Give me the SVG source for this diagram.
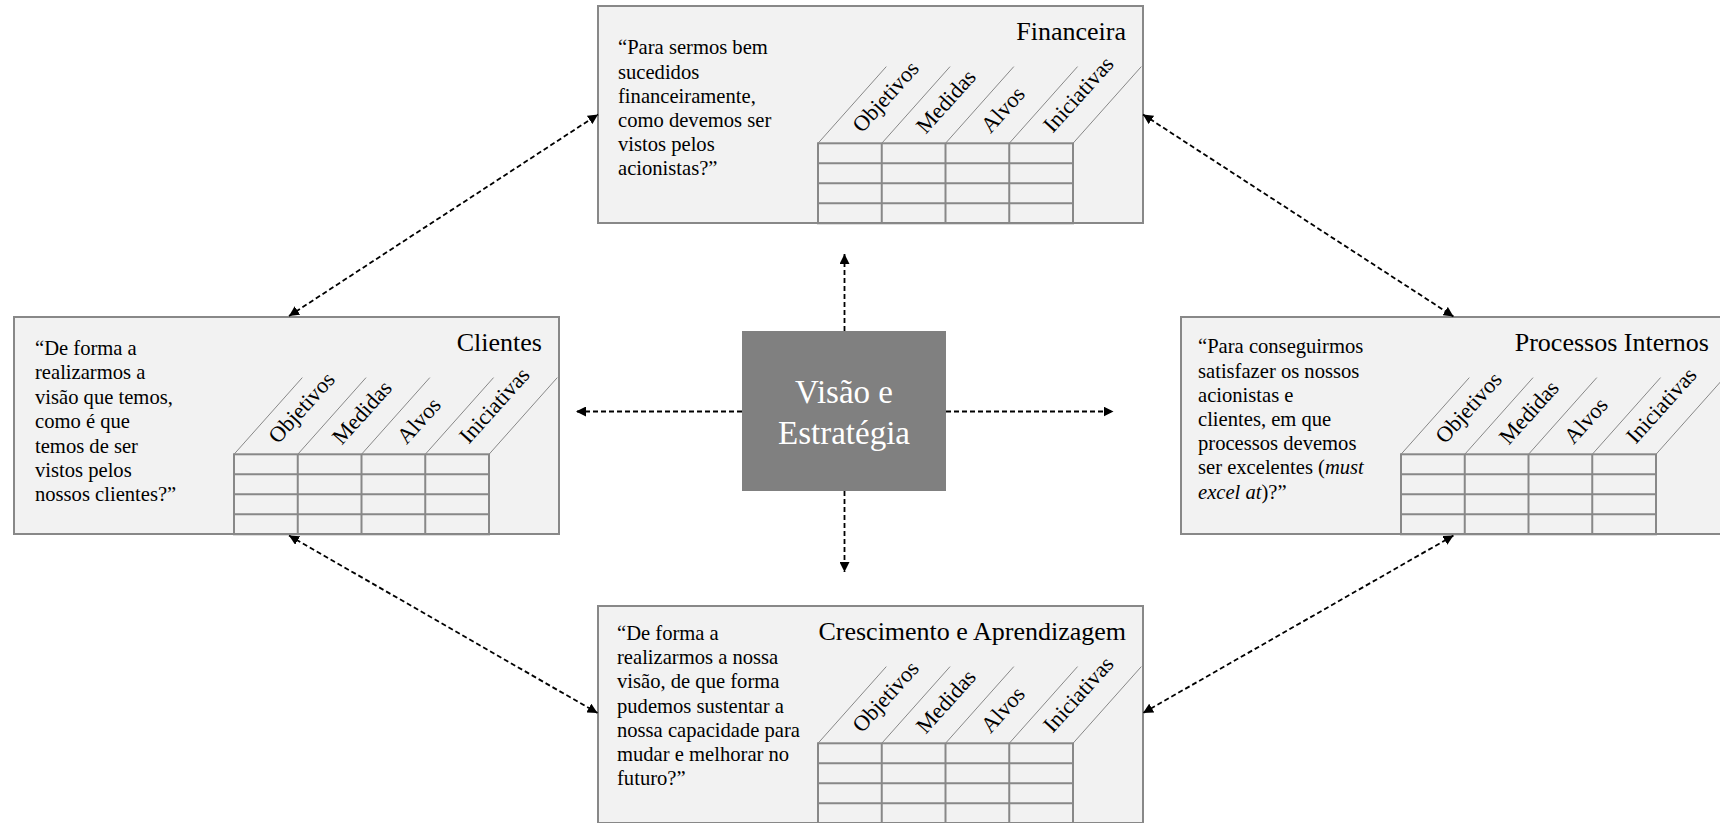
<svg xmlns="http://www.w3.org/2000/svg" width="1720" height="823" viewBox="0 0 1720 823">
  <style>
    .box{fill:#f2f2f2;stroke:#888;stroke-width:2}
    .grid{fill:none;stroke:#888;stroke-width:2}
    .slant{fill:none;stroke:#888;stroke-width:1}
    .serif{font-family:"Liberation Serif","Times New Roman",serif;fill:#000}
    .q{font-size:20.6px}
    .title{font-size:26px;text-anchor:end}
    .hd{font-size:22.3px}
    .core{fill:#808080}
    .coretxt{font-size:33px;fill:#fff;text-anchor:middle}
    .link{fill:none;stroke:#000;stroke-width:1.8;stroke-dasharray:5 3}
    .two{marker-start:url(#ah);marker-end:url(#ah)}
    .one{marker-end:url(#ah)}
  </style>
  <defs>
    <marker id="ah" viewBox="0 0 10 10" refX="10" refY="5" markerWidth="10" markerHeight="10" markerUnits="userSpaceOnUse" orient="auto-start-reverse">
      <path d="M0,0L10,5L0,10z" fill="#000"/>
    </marker>
    <!-- scorecard table: 4 columns x 4 rows with slanted header lines -->
    <g id="table">
      <rect class="grid" x="0" y="0" width="255" height="80"/>
      <path class="grid" d="M63.75,0V80M127.5,0V80M191.25,0V80M0,20H255M0,40H255M0,60H255"/>
      <path class="slant" d="M0,0l68.3,-76.7M63.75,0l68.3,-76.7M127.5,0l68.3,-76.7M191.25,0l68.3,-76.7M255,0l68.3,-76.7"/>
    </g>
  </defs>

  <!-- Financeira -->
  <g id="financeira">
    <rect class="box" x="598" y="6" width="545" height="217"/>
    <text class="serif title" x="1126" y="39.5">Financeira</text>
    <text class="serif q" x="618" y="54.3">
      <tspan x="618">“Para sermos bem</tspan>
      <tspan x="618" dy="24.2">sucedidos</tspan>
      <tspan x="618" dy="24.2">financeiramente,</tspan>
      <tspan x="618" dy="24.2">como devemos ser</tspan>
      <tspan x="618" dy="24.2">vistos pelos</tspan>
      <tspan x="618" dy="24.2">acionistas?”</tspan>
    </text>
    <g transform="translate(818,143.3)">
      <use href="#table"/>
      <text class="serif hd" transform="translate(44,-9.5) rotate(-48)">Objetivos</text>
      <text class="serif hd" transform="translate(107.75,-8.5) rotate(-48)">Medidas</text>
      <text class="serif hd" transform="translate(172.5,-9) rotate(-48)">Alvos</text>
      <text class="serif hd" transform="translate(234.75,-9.5) rotate(-48)">Iniciativas</text>
    </g>
  </g>

  <!-- Clientes -->
  <g id="clientes">
    <rect class="box" x="14" y="317" width="545" height="217"/>
    <text class="serif title" x="542" y="350.5">Clientes</text>
    <text class="serif q" x="35" y="355">
      <tspan x="35">“De forma a</tspan>
      <tspan x="35" dy="24.4">realizarmos a</tspan>
      <tspan x="35" dy="24.4">visão que temos,</tspan>
      <tspan x="35" dy="24.4">como é que</tspan>
      <tspan x="35" dy="24.4">temos de ser</tspan>
      <tspan x="35" dy="24.4">vistos pelos</tspan>
      <tspan x="35" dy="24.4">nossos clientes?”</tspan>
    </text>
    <g transform="translate(234,454.3)">
      <use href="#table"/>
      <text class="serif hd" transform="translate(44,-9.5) rotate(-48)">Objetivos</text>
      <text class="serif hd" transform="translate(107.75,-8.5) rotate(-48)">Medidas</text>
      <text class="serif hd" transform="translate(172.5,-9) rotate(-48)">Alvos</text>
      <text class="serif hd" transform="translate(234.75,-9.5) rotate(-48)">Iniciativas</text>
    </g>
  </g>

  <!-- Processos Internos -->
  <g id="processos">
    <rect class="box" x="1181" y="317" width="545" height="217"/>
    <text class="serif title" x="1709" y="350.5">Processos Internos</text>
    <text class="serif q" x="1198" y="353.3">
      <tspan x="1198">“Para conseguirmos</tspan>
      <tspan x="1198" dy="24.2">satisfazer os nossos</tspan>
      <tspan x="1198" dy="24.2">acionistas e</tspan>
      <tspan x="1198" dy="24.2">clientes, em que</tspan>
      <tspan x="1198" dy="24.2">processos devemos</tspan>
      <tspan x="1198" dy="24.2">ser excelentes (<tspan font-style="italic">must</tspan></tspan>
      <tspan x="1198" dy="24.2"><tspan font-style="italic">excel at</tspan>)?”</tspan>
    </text>
    <g transform="translate(1401,454.3)">
      <use href="#table"/>
      <text class="serif hd" transform="translate(44,-9.5) rotate(-48)">Objetivos</text>
      <text class="serif hd" transform="translate(107.75,-8.5) rotate(-48)">Medidas</text>
      <text class="serif hd" transform="translate(172.5,-9) rotate(-48)">Alvos</text>
      <text class="serif hd" transform="translate(234.75,-9.5) rotate(-48)">Iniciativas</text>
    </g>
  </g>

  <!-- Crescimento e Aprendizagem -->
  <g id="crescimento">
    <rect class="box" x="598" y="606" width="545" height="217"/>
    <text class="serif title" x="1126" y="640">Crescimento e Aprendizagem</text>
    <text class="serif q" x="617" y="640">
      <tspan x="617">“De forma a</tspan>
      <tspan x="617" dy="24.2">realizarmos a nossa</tspan>
      <tspan x="617" dy="24.2">visão, de que forma</tspan>
      <tspan x="617" dy="24.2">pudemos sustentar a</tspan>
      <tspan x="617" dy="24.2">nossa capacidade para</tspan>
      <tspan x="617" dy="24.2">mudar e melhorar no</tspan>
      <tspan x="617" dy="24.2">futuro?”</tspan>
    </text>
    <g transform="translate(818,743.3)">
      <use href="#table"/>
      <text class="serif hd" transform="translate(44,-9.5) rotate(-48)">Objetivos</text>
      <text class="serif hd" transform="translate(107.75,-8.5) rotate(-48)">Medidas</text>
      <text class="serif hd" transform="translate(172.5,-9) rotate(-48)">Alvos</text>
      <text class="serif hd" transform="translate(234.75,-9.5) rotate(-48)">Iniciativas</text>
    </g>
  </g>

  <!-- Visão e Estratégia -->
  <g id="visao">
    <rect class="core" x="742" y="331" width="204" height="160"/>
    <text class="serif coretxt" x="844" y="403">Visão e</text>
    <text class="serif coretxt" x="844" y="444">Estratégia</text>
  </g>

  <!-- connectors -->
  <g id="connectors">
    <path class="link one" d="M844.5,331V254"/>
    <path class="link one" d="M844.5,491V572"/>
    <path class="link one" d="M742,411.5H576"/>
    <path class="link one" d="M946,411.5H1113.5"/>
    <path class="link two" d="M289,316L598,114.5"/>
    <path class="link two" d="M1143,114.5L1453.5,316.5"/>
    <path class="link two" d="M289,535.5L597.5,713"/>
    <path class="link two" d="M1453.5,535.5L1143,713"/>
  </g>
</svg>
